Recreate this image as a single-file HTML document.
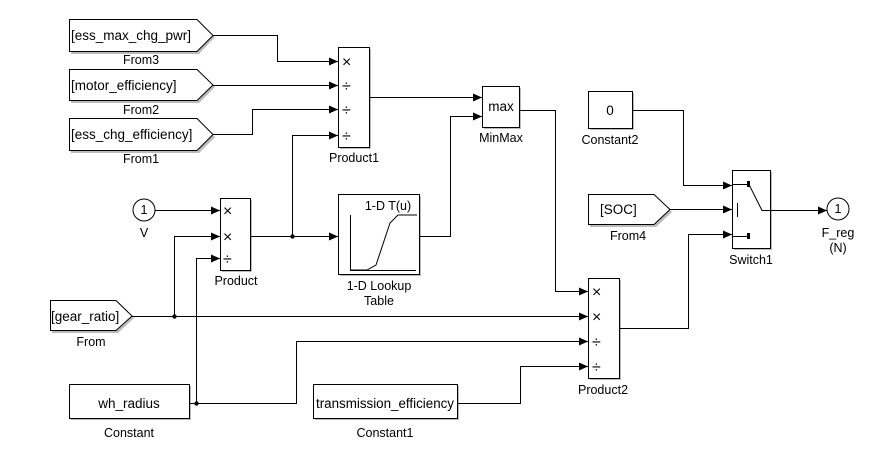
<!DOCTYPE html>
<html><head><meta charset="utf-8"><style>
html,body{margin:0;padding:0;background:#fff;}
svg{display:block;font-family:"Liberation Sans",Arial,sans-serif;}
</style></head><body>
<svg width="890" height="470" viewBox="0 0 890 470" xmlns="http://www.w3.org/2000/svg" font-size="12">
<defs>
<marker id="a" markerWidth="9" markerHeight="8" refX="9" refY="4" orient="auto" markerUnits="userSpaceOnUse">
<path d="M0,0 L9,4 L0,8 z" fill="#000"/></marker>
</defs>
<g fill="#bbb" stroke="none">
<path d="M71,22 H199 L215,37 L199,54 H71 Z"/>
<path d="M71,72 H199 L215,87 L199,103 H71 Z"/>
<path d="M71,121 H199 L215,137 L199,153 H71 Z"/>
<path d="M52,303 H118 L134,318 L118,333 H52 Z"/>
<path d="M590,197 H656 L672,212 L656,227 H590 Z"/>
<rect x="340" y="49" width="31" height="100"/>
<rect x="222" y="200" width="30" height="72"/>
<rect x="340" y="196" width="81" height="80"/>
<rect x="484" y="88" width="37" height="41"/>
<rect x="590" y="280" width="31" height="100"/>
<rect x="590" y="93" width="44" height="37"/>
<rect x="734" y="172" width="38" height="78"/>
<rect x="71" y="386" width="120" height="34"/>
<rect x="315" y="386" width="144" height="34"/>
</g>
<g fill="#fff" stroke="#000" stroke-width="1">
<path d="M69.5,19.5 H197 L213,35.5 L197,51.5 H69.5 Z"/>
<path d="M69.5,69.5 H197 L213,85 L197,100.5 H69.5 Z"/>
<path d="M69.5,118.5 H197 L213,134.5 L197,150.5 H69.5 Z"/>
<path d="M50.5,300.5 H116 L132,316 L116,330.5 H50.5 Z"/>
<path d="M588.5,194.5 H654 L670,209.5 L654,224.5 H588.5 Z"/>
<rect x="338.5" y="47.5" width="31" height="100"/>
<rect x="220.5" y="198.5" width="30" height="72"/>
<rect x="338.5" y="194.5" width="81" height="80"/>
<rect x="482.5" y="86.5" width="37" height="41"/>
<rect x="588.5" y="278.5" width="31" height="100"/>
<rect x="588.5" y="91.5" width="44" height="37"/>
<rect x="732.5" y="170.5" width="38" height="78"/>
<rect x="69.5" y="384.5" width="120" height="34"/>
<rect x="313.5" y="384.5" width="144" height="34"/>
<circle cx="144" cy="210" r="11"/>
<circle cx="838" cy="209" r="11"/>
</g>
<g fill="none" stroke="#000" stroke-width="1">
<path d="M213,35.5 H277.5 V61.5 H338" marker-end="url(#a)"/>
<path d="M213,85.5 H338" marker-end="url(#a)"/>
<path d="M213,134.5 H252.5 V109.5 H338" marker-end="url(#a)"/>
<path d="M292.5,236.5 V135.5 H338" marker-end="url(#a)"/>
<path d="M155,210.5 H220" marker-end="url(#a)"/>
<path d="M174.5,316 V236.5 H220" marker-end="url(#a)"/>
<path d="M196.5,403 V258.5 H220" marker-end="url(#a)"/>
<path d="M250,236.5 H338" marker-end="url(#a)"/>
<path d="M369,97.5 H482" marker-end="url(#a)"/>
<path d="M419,236.5 H450.5 V116.5 H482" marker-end="url(#a)"/>
<path d="M519,110.5 H555.5 V291.5 H588" marker-end="url(#a)"/>
<path d="M132,316.5 H588" marker-end="url(#a)"/>
<path d="M189,403.5 H296.5 V341.5 H588" marker-end="url(#a)"/>
<path d="M457,403.5 H520.5 V366.5 H588" marker-end="url(#a)"/>
<path d="M619,328.5 H688.5 V234.5 H732" marker-end="url(#a)"/>
<path d="M632,110.5 H683.5 V185.5 H732" marker-end="url(#a)"/>
<path d="M670,209.5 H732" marker-end="url(#a)"/>
<path d="M770,210.5 H827" marker-end="url(#a)"/>
<path d="M733,184.5 H749 L762,210.5 H770"/>
<path d="M737.5,203 V217"/>
<path d="M733,236.5 H749"/>
<path d="M350.5,215 V270.5 H416"/>
<path d="M350,270 H367 L376,265 L390,223 L398,215 H417"/>
</g>
<g fill="#000">
<rect x="747" y="181" width="3" height="6"/>
<rect x="747" y="233" width="3" height="6"/>
<circle cx="292.5" cy="236.5" r="2.2"/>
<circle cx="174.5" cy="316.5" r="2.2"/>
<circle cx="196.5" cy="403.5" r="2.2"/>
</g>
<g font-size="13.5">
<text x="71" y="40">[ess_max_chg_pwr]</text>
<text x="71" y="90">[motor_efficiency]</text>
<text x="71" y="139">[ess_chg_efficiency]</text>
<text x="51" y="321">[gear_ratio]</text>
<text x="600" y="214">[SOC]</text>
<text x="129" y="408" text-anchor="middle">wh_radius</text>
<text x="385" y="408" text-anchor="middle" textLength="138" lengthAdjust="spacingAndGlyphs">transmission_efficiency</text>
<text x="501" y="111" text-anchor="middle">max</text>
<text x="610" y="115" text-anchor="middle">0</text>
</g>
<g font-size="12.5">
<text x="141" y="64" text-anchor="middle">From3</text>
<text x="141" y="114" text-anchor="middle">From2</text>
<text x="141" y="163" text-anchor="middle">From1</text>
<text x="91" y="346" text-anchor="middle">From</text>
<text x="628" y="240" text-anchor="middle">From4</text>
<text x="354" y="162" text-anchor="middle">Product1</text>
<text x="236" y="285" text-anchor="middle">Product</text>
<text x="379" y="290" text-anchor="middle">1-D Lookup</text>
<text x="379" y="305" text-anchor="middle">Table</text>
<text x="501" y="142" text-anchor="middle">MinMax</text>
<text x="603" y="394" text-anchor="middle">Product2</text>
<text x="610" y="144" text-anchor="middle">Constant2</text>
<text x="751" y="264" text-anchor="middle">Switch1</text>
<text x="129" y="437" text-anchor="middle">Constant</text>
<text x="385" y="437" text-anchor="middle">Constant1</text>
<text x="388" y="210" text-anchor="middle">1-D T(u)</text>
<text x="144" y="214" text-anchor="middle">1</text>
<text x="144" y="237" text-anchor="middle">V</text>
<text x="838" y="213" text-anchor="middle">1</text>
<text x="838" y="237" text-anchor="middle">F_reg</text>
<text x="838" y="252" text-anchor="middle">(N)</text>
</g>
<g font-size="16">
<text x="342" y="67">×</text><text x="342" y="91">÷</text><text x="342" y="115">÷</text><text x="342" y="141">÷</text>
<text x="223" y="216">×</text><text x="223" y="242">×</text><text x="223" y="264">÷</text>
<text x="592" y="297">×</text><text x="592" y="322">×</text><text x="592" y="347">÷</text><text x="592" y="372">÷</text>
</g>
</svg>
</body></html>
